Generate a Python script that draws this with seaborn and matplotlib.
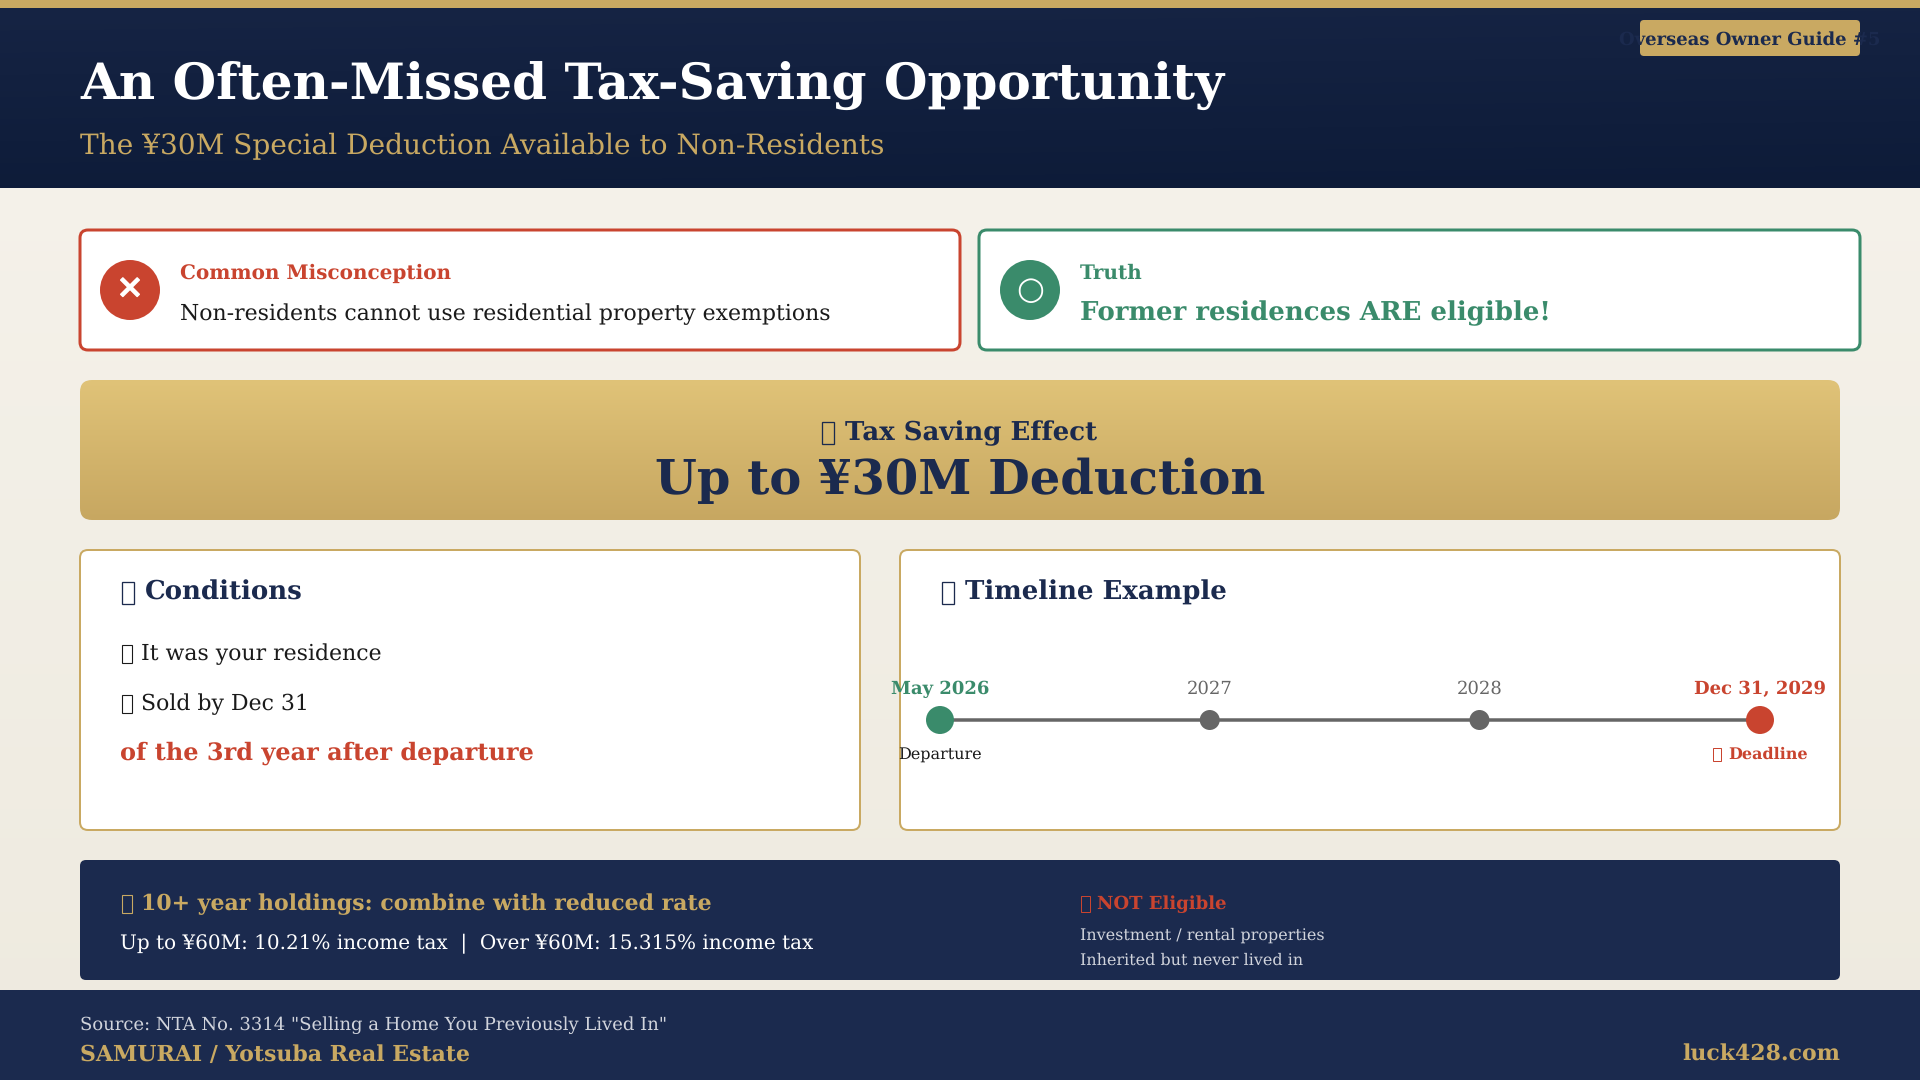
import numpy as np
import pandas as pd
import matplotlib
matplotlib.use("Agg")
import matplotlib.pyplot as plt
import matplotlib.patheffects as pe
from matplotlib.patches import FancyBboxPatch, Rectangle
import seaborn as sns

# colours
NAVY = "#1B2A4E"
GOLD = "#C9A962"
RED = "#C9442F"
GREEN = "#3A8B6B"
GREY = "#666666"
INK = "#1A1A1A"
SOFT = "#D1D4DC"

# text
title = "An Often-Missed Tax-Saving Opportunity"
subtitle = "The ¥30M Special Deduction Available to Non-Residents"
badge = "Overseas Owner Guide #5"
conditions = ["It was your residence", "Sold by Dec 31"]
condition_note = "of the 3rd year after departure"
not_eligible = ["Investment / rental properties", "Inherited but never lived in"]

# timeline
node_pos = [0, 1, 2, 3.04]
node_kind = ["start", "mid", "mid", "end"]
node_top = ["May 2026", "2027", "2028", "Dec 31, 2029"]
node_bottom = ["Departure", "", "", "Deadline"]

sns.set_theme(style="white")
plt.rcParams["font.family"] = ["DejaVu Serif", "DejaVu Sans"]
plt.rcParams["text.hinting"] = "no_hinting"
plt.rcParams["text.hinting_factor"] = 1

fig = plt.figure(figsize=(19.2, 10.8), dpi=100)
ax = fig.add_axes([0, 0, 1, 1])
ax.set_xlim(0, 1920)
ax.set_ylim(1080, 0)
ax.axis("off")


def px(size):
    return size * 0.72


def txt(x, y, s, size, color=INK, weight="normal", ha="left", zorder=5):
    return ax.text(x, y, s, fontsize=px(size), color=color, fontweight=weight,
                   ha=ha, va="baseline", zorder=zorder)


def box_icon(x, y, size, color):
    # the emoji has no font here, the reference shows it as an empty box
    ax.add_patch(Rectangle((x + 0.08 * size, y - 0.7 * size), 0.46 * size, 0.85 * size,
                           fc="none", ec=color, lw=px(max(1.0, 0.05 * size)), zorder=5))


def icon_txt(x, y, s, size, color=INK, weight="normal"):
    box_icon(x, y, size, color)
    return txt(x + 0.96 * size, y, s, size, color, weight)


def gradient(x0, y0, x1, y1, c0, c1, clip=None, tilt=0.0, zorder=1):
    c0 = np.array(matplotlib.colors.to_rgb(c0))
    c1 = np.array(matplotlib.colors.to_rgb(c1))
    yy, xx = np.mgrid[0:1:200j, 0:1:200j]
    t = np.clip(yy * (1 - tilt) + xx * tilt, 0, 1)[..., None]
    im = ax.imshow(c0 * (1 - t) + c1 * t, extent=(x0, x1, y1, y0), aspect="auto",
                   zorder=zorder, interpolation="bilinear")
    if clip is not None:
        im.set_clip_path(clip)
    return im


def card(x0, y0, x1, y1, face="white", edge="none", lw=0, r=8, zorder=2):
    p = FancyBboxPatch((x0, y0), x1 - x0, y1 - y0,
                       boxstyle=f"round,pad=0,rounding_size={r}",
                       fc=face, ec=edge, lw=lw * 0.72, zorder=zorder)
    ax.add_patch(p)
    return p


# page and header
gradient(0, 0, 1920, 1080, "#F6F3EC", "#EEEADF", zorder=0)
gradient(0, 8, 1920, 188, "#162444", "#0D1B38", tilt=0.1)
ax.add_patch(Rectangle((0, 0), 1920, 8, fc=GOLD, ec="none", zorder=2))
txt(80, 100, title, 50, "white", "bold")
txt(80, 154, subtitle, 28, GOLD)
card(1640, 20, 1860, 56, face=GOLD, r=4)
txt(1750, 45, badge, 18, NAVY, "bold", ha="center")

# misconception / truth
card(80, 230, 960, 350, edge=RED, lw=3)
card(979, 230, 1860, 350, edge=GREEN, lw=3)
ax.add_patch(plt.Circle((130, 290), 30, fc=RED, ec="none", zorder=3))
ax.add_patch(plt.Circle((1030, 290), 30, fc=GREEN, ec="none", zorder=3))
ax.text(130, 290, "✕", fontsize=px(32), color="white", ha="center", va="center",
        family="DejaVu Sans", zorder=5,
        path_effects=[pe.withStroke(linewidth=1, foreground="white")])
ax.text(1030, 290, "○", fontsize=px(32), color="white", ha="center", va="center",
        family="DejaVu Sans", zorder=5)
txt(180, 279, "Common Misconception", 20, RED, "bold")
txt(180, 320, "Non-residents cannot use residential property exemptions", 22)
txt(1080, 279, "Truth", 20, GREEN, "bold")
txt(1080, 320, "Former residences ARE eligible!", 26, GREEN, "bold")

# banner
banner = card(80, 380, 1840, 520, face="none", r=12)
gradient(80, 380, 1840, 520, "#E0C378", "#C7A761", clip=banner, zorder=2)
icon_txt(820, 440, "Tax Saving Effect", 26, NAVY, "bold")
txt(960, 494, "Up to ¥30M Deduction", 48, NAVY, "bold", ha="center")

# two panels
card(80, 550, 860, 830, edge=GOLD, lw=2)
card(900, 550, 1840, 830, edge=GOLD, lw=2)
icon_txt(120, 600, "Conditions", 26, NAVY, "bold")
icon_txt(940, 600, "Timeline Example", 26, NAVY, "bold")
icon_txt(120, 660, conditions[0], 22)
icon_txt(120, 710, conditions[1], 22)
txt(120, 760, condition_note, 24, RED, "bold")

# timeline through seaborn
tl = fig.add_axes([940 / 1920, 1 - 740 / 1080, 820 / 1920, 40 / 1080])
tl.patch.set_alpha(0)
df = pd.DataFrame({"pos": node_pos, "kind": node_kind, "y": [0] * 4})
sns.lineplot(data=df, x="pos", y="y", color=GREY, linewidth=px(3.5), ax=tl, legend=False)
sns.scatterplot(data=df, x="pos", y="y", hue="kind", size="kind",
                palette={"start": GREEN, "mid": GREY, "end": RED},
                sizes={"start": px(28) ** 2, "mid": px(20) ** 2, "end": px(28) ** 2},
                linewidth=0, legend=False, zorder=4, clip_on=False, ax=tl)
tl.set_xlim(0, node_pos[-1])
tl.set_ylim(-1, 1)
tl.axis("off")
top_style = {"start": (GREEN, "bold"), "mid": (GREY, "normal"), "end": (RED, "bold")}
for p, k, a, b in zip(node_pos, node_kind, node_top, node_bottom):
    c, w = top_style[k]
    tl.annotate(a, (p, 0), xytext=(0, px(26)), textcoords="offset points", ha="center",
                va="baseline", fontsize=px(18), color=c, fontweight=w, zorder=6)
    if k == "end":
        # text sits right of its box icon
        tl.annotate(b, (p, 0), xytext=(px(8), -px(39)), textcoords="offset points", ha="center",
                    va="baseline", fontsize=px(16), color=c, fontweight=w, zorder=6)
    elif b:
        tl.annotate(b, (p, 0), xytext=(0, -px(40)), textcoords="offset points", ha="center",
                    va="baseline", fontsize=px(16), color=INK, zorder=6)
box_icon(1712, 759, 16, RED)

# tax note
card(80, 860, 1840, 980, face=NAVY, r=6)
icon_txt(120, 910, "10+ year holdings: combine with reduced rate", 22, GOLD, "bold")
txt(120, 949.5, "Up to ¥60M: 10.21% income tax  |  Over ¥60M: 15.315% income tax", 20, "white")
icon_txt(1080, 909, "NOT Eligible", 18, RED, "bold")
txt(1080, 940, not_eligible[0], 16, SOFT)
txt(1080, 965, not_eligible[1], 16, SOFT)

# footer
ax.add_patch(Rectangle((0, 990), 1920, 90, fc=NAVY, ec="none", zorder=2))
txt(80, 1030, 'Source: NTA No. 3314 "Selling a Home You Previously Lived In"', 18, SOFT)
txt(80, 1061, "SAMURAI / Yotsuba Real Estate", 22, GOLD, "bold")
txt(1840, 1061, "luck428.com", 22, GOLD, "bold", ha="right")

fig.savefig("out.png", dpi=100)
